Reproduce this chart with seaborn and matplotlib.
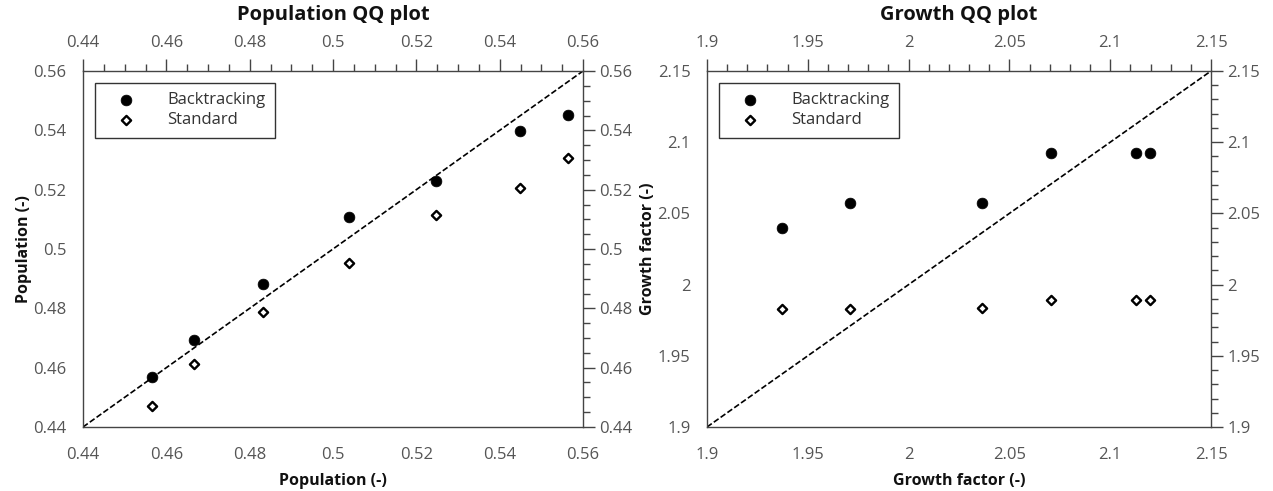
import numpy as np
import pandas as pd
import matplotlib
matplotlib.use("Agg")
import matplotlib.pyplot as plt
import seaborn as sns
from matplotlib.ticker import MultipleLocator, FixedLocator, FuncFormatter

sns.set_theme(style="white")
plt.rcParams['font.family'] = ['Open Sans', 'DejaVu Sans']

# ---- data ----
series_names = ["Backtracking", "Standard"]

pop_x = [0.4565, 0.4667, 0.4831, 0.5038, 0.5248, 0.5448, 0.5564]
pop_backtracking = [0.4567, 0.4692, 0.4881, 0.5107, 0.5228, 0.5397, 0.5453]
pop_standard = [0.4472, 0.4613, 0.4787, 0.4952, 0.5113, 0.5206, 0.5307]
pop_diag = [0.44, 0.56]
pop_ticks = [0.44, 0.46, 0.48, 0.50, 0.52, 0.54, 0.56]

growth_x = [1.9370, 1.9711, 2.0366, 2.0707, 2.1127, 2.1196]
growth_backtracking = [2.0397, 2.0572, 2.0572, 2.0925, 2.0925, 2.0925]
growth_standard = [1.9829, 1.9829, 1.9839, 1.9890, 1.9890, 1.9890]
growth_diag = [1.90, 2.15]
growth_ticks = [1.90, 1.95, 2.00, 2.05, 2.10, 2.15]

titles = ["Population QQ plot", "Growth QQ plot"]
labels = ["Population (-)", "Growth factor (-)"]

W, H = 1273, 491
fig = plt.figure(figsize=(W / 100, H / 100), dpi=100)
ax1 = fig.add_axes([83 / W, 64 / H, 500 / W, 356 / H])
ax2 = fig.add_axes([707 / W, 64 / H, 504 / W, 356 / H])

TICK_COLOR = "#555555"
fmt = FuncFormatter(lambda v, p: f"{v:g}")

def draw(ax, x, yb, ys, diag, ticks, minor, title, label):
    df = pd.DataFrame({"x": x, "yb": yb, "ys": ys})
    dd = pd.DataFrame({"x": diag, "y": diag})
    sns.lineplot(data=dd, x="x", y="y", ax=ax, color="black", lw=1.2,
                 linestyle=(0, (3.5, 1.5)), zorder=2, legend=False)
    sns.scatterplot(data=df, x="x", y="yb", ax=ax, marker="o", s=60,
                    color="black", edgecolor="black", linewidth=0.5,
                    label=series_names[0], zorder=3)
    sns.scatterplot(data=df, x="x", y="ys", ax=ax, marker="D", s=22,
                    facecolor="white", edgecolor="black", linewidth=1.7,
                    label=series_names[1], zorder=3)
    ax.set_xlim(diag[0], diag[1])
    ax.set_ylim(diag[0], diag[1])
    for axis in (ax.xaxis, ax.yaxis):
        axis.set_major_locator(FixedLocator(ticks))
        axis.set_minor_locator(MultipleLocator(minor))
        axis.set_major_formatter(fmt)
    ax.tick_params(which="both", direction="out", top=True, right=True,
                   labeltop=True, labelright=True, colors="#444444",
                   labelcolor=TICK_COLOR, labelsize=12)
    ax.tick_params(which="major", length=8.4, width=1.0, pad=3.5)
    ax.tick_params(axis="x", which="major", pad=6)
    ax.tick_params(which="minor", length=4.8, width=1.0)
    for sp in ax.spines.values():
        sp.set_color("#444444")
        sp.set_linewidth(1.0)
    ax.set_title(title, fontsize=14.5, fontweight="bold", color="#111111", pad=11)
    ax.set_xlabel(label, fontsize=11.5, fontweight="bold", color="#111111", labelpad=7)
    ax.set_ylabel(label, fontsize=11.5, fontweight="bold", color="#111111", labelpad=1)
    leg = ax.legend(loc="upper left", bbox_to_anchor=(0.024, 0.966),
                    borderaxespad=0, frameon=True, fancybox=False,
                    edgecolor="#333333", framealpha=1, fontsize=12,
                    handletextpad=1.2, borderpad=0.55, labelspacing=0.25,
                    handlelength=2.6, markerscale=1.0)
    leg.get_frame().set_linewidth(1.0)
    for t in leg.get_texts():
        t.set_color("#333333")
    leg.set_zorder(5)

draw(ax1, pop_x, pop_backtracking, pop_standard, pop_diag, pop_ticks, 0.005,
     titles[0], labels[0])
draw(ax2, growth_x, growth_backtracking, growth_standard, growth_diag, growth_ticks, 0.01,
     titles[1], labels[1])

fig.savefig("out.png", dpi=100)
